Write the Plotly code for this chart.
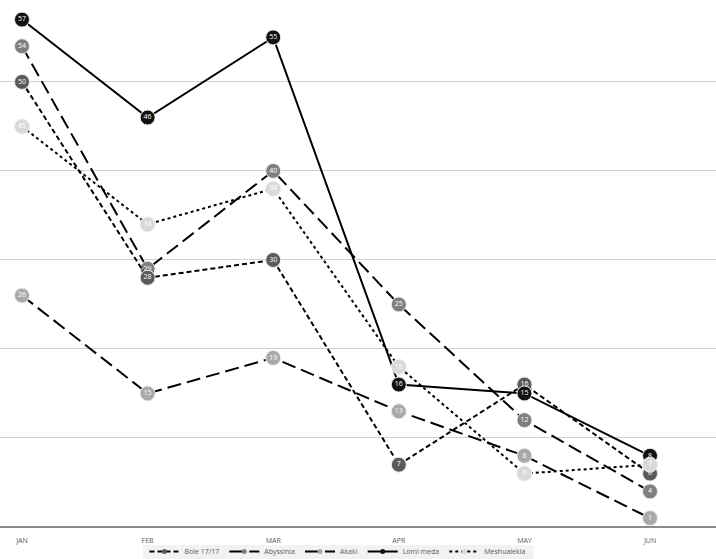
import plotly.graph_objects as go

months = ["JAN", "FEB", "MAR", "APR", "MAY", "JUN"]

bole = [50, 28, 30, 7, 16, 6]
abyssinia = [54, 29, 40, 25, 12, 4]
akaki = [26, 15, 19, 13, 8, 1]
lomi_meda = [57, 46, 55, 16, 15, 8]
meshualekia = [45, 34, 38, 18, 6, 7]

# name, values, marker colour, dash, legend rank
series = [
    ("Abyssinia", abyssinia, "#7f7f7f", "14px,6px", 2),
    ("Akaki", akaki, "#a9a9a9", "14px,6px", 3),
    ("Bole 17/17", bole, "#5a5a5a", "5px,3px", 1),
    ("Lomi meda", lomi_meda, "#111111", "solid", 4),
    ("Meshualekia", meshualekia, "#d9d9d9", "dot", 5),
]

fig = go.Figure()
for name, vals, col, dash, rank in series:
    fig.add_trace(go.Scatter(
        x=months, y=vals, name=name,
        mode="lines+markers+text",
        text=[str(v) for v in vals],
        textposition="middle center",
        textfont=dict(color="white", size=7, family="Open Sans"),
        line=dict(color="black", width=2, dash=dash),
        marker=dict(size=15, color=col, line=dict(color="#eeeeee", width=1)),
        showlegend=False,
        cliponaxis=False,
    ))
    # small legend entry
    fig.add_trace(go.Scatter(
        x=[None], y=[None], name=name,
        mode="lines+markers",
        line=dict(color="black", width=2, dash=dash),
        marker=dict(size=5, color=col),
        legendrank=rank,
    ))

fig.update_layout(
    width=716, height=559,
    margin=dict(l=0, r=0, t=0, b=32, autoexpand=False),
    plot_bgcolor="white",
    paper_bgcolor="white",
    font=dict(family="Open Sans", size=7, color="#595959"),
    showlegend=True,
    legend=dict(
        orientation="h",
        x=0.472, xanchor="center",
        y=-0.019, yanchor="top",
        bgcolor="rgba(0,0,0,0)",
        font=dict(size=7, color="#595959"),
        itemwidth=30,
        tracegroupgap=0,
    ),
    xaxis=dict(
        type="category",
        range=[-0.175, 5.525],
        showgrid=False,
        showline=False,
        ticks="outside",
        ticklen=7,
        tickcolor="rgba(0,0,0,0)",
        tickfont=dict(size=7, color="#595959"),
    ),
    yaxis=dict(
        range=[0, 59.2],
        dtick=10,
        showticklabels=False,
        showgrid=True,
        gridcolor="#d0d0d0",
        gridwidth=1,
        zeroline=True,
        zerolinecolor="#8c8c8c",
        zerolinewidth=2,
    ),
)

# faint box behind the legend
fig.add_shape(type="rect", xref="paper", yref="paper",
              x0=0.2, x1=0.745, y0=-0.0607, y1=-0.0342,
              fillcolor="#f2f2f2", line=dict(width=0), layer="below")

# drop the page's default body margin so the chart fills the window
fig.write_html("out.html", config={"displayModeBar": False},
               post_script="document.body.style.margin='0';")
